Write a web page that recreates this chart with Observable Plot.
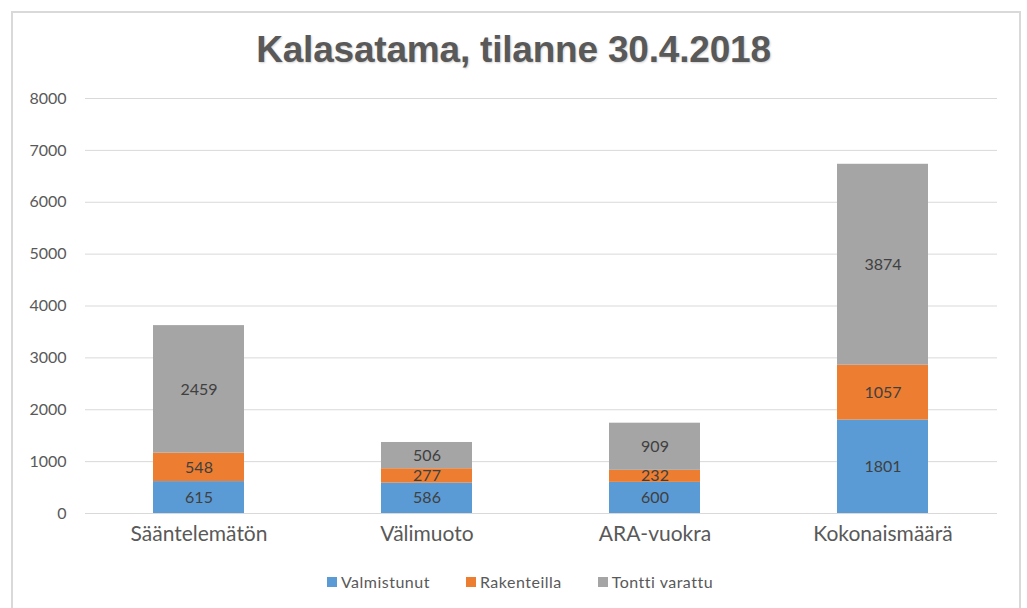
<!DOCTYPE html>
<html>
<head>
<meta charset="utf-8">
<script src="https://cdn.jsdelivr.net/npm/d3@7"></script>
<script src="https://cdn.jsdelivr.net/npm/@observablehq/plot@0.6"></script>
<style>
  html, body { margin: 0; padding: 0; background: #fff; width: 1027px; height: 608px; overflow: hidden; }
  #frame { position: absolute; left: 11px; top: 11px; width: 1010px; height: 620px; border: 2px solid #d9d9d9; box-sizing: border-box; }
  #title { position: absolute; left: 0; width: 1027px; top: 29px; text-align: center; font-family: "Liberation Sans", Arial, sans-serif; font-weight: bold; font-size: 37px; color: #595959; text-shadow: 1px 1px 2px rgba(0,0,0,0.18); letter-spacing: -0.2px; }
  #chart { position: absolute; left: 0; top: 80px; }
  #legend { position: absolute; left: 0; width: 1040px; top: 572px; display: flex; justify-content: center; gap: 36px; font-family: Lato, "Open Sans", sans-serif; font-size: 16px; color: #595959; letter-spacing: 0.5px; }
  #legend .item { display: flex; align-items: center; gap: 4px; }
  #legend .sw { width: 10px; height: 10px; display: inline-block; }
</style>
</head>
<body>
<div id="frame"></div>
<div id="title">Kalasatama, tilanne 30.4.2018</div>
<div id="chart"></div>
<div id="legend"></div>
<script>
const categories = ["Sääntelemätön", "Välimuoto", "ARA-vuokra", "Kokonaismäärä"];
const series = ["Valmistunut", "Rakenteilla", "Tontti varattu"];
const valmistunut = [615, 586, 600, 1801];
const rakenteilla = [548, 277, 232, 1057];
const tonttiVarattu = [2459, 506, 909, 3874];
const yTicks = [0, 1000, 2000, 3000, 4000, 5000, 6000, 7000, 8000];
const colors = ["#5B9BD5", "#ED7D31", "#A5A5A5"];

const seriesValues = [valmistunut, rakenteilla, tonttiVarattu];
const rows = [];
series.forEach((s, i) => {
  categories.forEach((c, j) => {
    rows.push({ category: c, series: s, value: seriesValues[i][j] });
  });
});

const chart = Plot.plot({
  width: 1027,
  height: 480,
  marginLeft: 85,
  marginRight: 30,
  marginTop: 18,
  marginBottom: 47,
  style: { fontFamily: "Lato, 'Open Sans', sans-serif", background: "transparent", color: "#595959" },
  x: { domain: categories, paddingInner: 0.6, paddingOuter: 0.3, label: null },
  y: { domain: [0, 8000], label: null },
  color: { domain: series, range: colors },
  marks: [
    Plot.gridY(yTicks, { stroke: "#d9d9d9", strokeOpacity: 1, strokeWidth: 1 }),
    Plot.barY(rows, { x: "category", y: "value", fill: "series" }),
    Plot.text(rows, Plot.stackY({ x: "category", y: "value", z: "series", text: d => String(d.value), fill: "#404040", fontSize: 16 })),
    Plot.axisY(yTicks, { tickSize: 0, tickPadding: 19, fontSize: 16, fill: "#595959", label: null, tickFormat: d => String(d) }),
    Plot.axisX({ tickSize: 0, tickPadding: 13, fontSize: 21, fill: "#595959", label: null, style: "letter-spacing: 0.6px" })
  ]
});
document.getElementById("chart").appendChild(chart);

const legend = document.getElementById("legend");
series.forEach((s, i) => {
  const item = document.createElement("span");
  item.className = "item";
  const sw = document.createElement("span");
  sw.className = "sw";
  sw.style.background = colors[i];
  const t = document.createElement("span");
  t.textContent = s;
  item.appendChild(sw);
  item.appendChild(t);
  legend.appendChild(item);
});
</script>
</body>
</html>
